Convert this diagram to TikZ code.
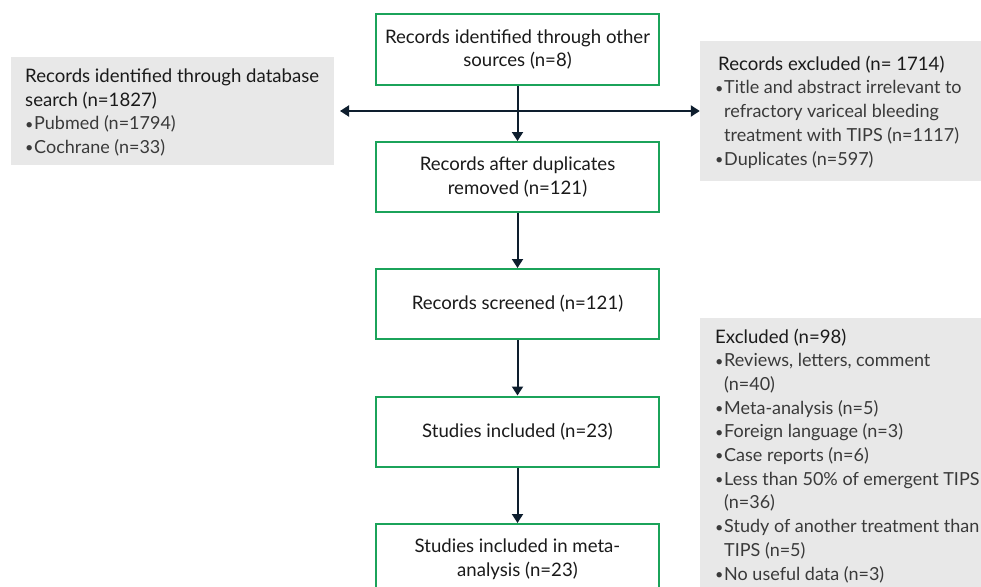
\documentclass[tikz,border=0pt]{standalone}
\usepackage{fontspec}
\usepackage{graphicx}
\setmainfont{Lato}
\usetikzlibrary{arrows.meta}
\definecolor{boxgreen}{HTML}{1BA35A}
\definecolor{arrowdark}{HTML}{0E1E2E}
\definecolor{panelgray}{HTML}{E8E8E8}
\definecolor{headtext}{HTML}{1A1A1A}
\definecolor{itemtext}{HTML}{3A3A3A}
\newcommand{\blt}{\makebox[10pt][l]{\hspace*{1pt}\raisebox{0.6pt}{\scalebox{0.8}{•}}}}
\newcommand{\ind}{\hspace*{10pt}}
\newcommand{\hd}[1]{{\fontsize{18.6}{23.7}\selectfont\color{headtext}#1}}
\tikzset{
  gbox/.style={draw=boxgreen, line width=2pt, fill=white, minimum width=283pt, minimum height=70pt,
    align=center, inner sep=0pt, font=\fontsize{18.6}{23.7}\selectfont, text=headtext},
  panel/.style={fill=panelgray, draw=none, inner sep=0pt},
  paneltext/.style={anchor=base west, align=left, inner sep=0pt, font=\fontsize{18}{23.7}\selectfont, text=itemtext},
  arr/.style={draw=arrowdark, line width=2pt, -{Triangle[length=9pt,width=11pt]}},
  darr/.style={draw=arrowdark, line width=2pt, {Triangle[length=9pt,width=11pt]}-{Triangle[length=9pt,width=11pt]}}
}
\begin{document}
\begin{tikzpicture}[x=1pt,y=-1pt]
\clip (0,0) rectangle (981,586);
\fill[white] (0,0) rectangle (981,586);
% panels
\node[panel, minimum width=323pt, minimum height=108pt] (L) at (172.5,111) {};
\node[panel, minimum width=281pt, minimum height=140pt] (R1) at (840.5,111) {};
\node[panel, minimum width=281pt, minimum height=290pt] (R2) at (840.5,463) {};
% panel texts (anchor = baseline of last line)
\node[paneltext] (Lt) at (24,153.5) {\hd{\hspace*{1pt}Records identified through database}\\
\hd{\hspace*{1pt}search (n=1827)}\\
\blt Pubmed (n=1794)\\
\blt Cochrane (n=33)};
\node[paneltext] (R1t) at (714,165) {\hd{\hspace*{4pt}Records excluded (n= 1714)}\\
\blt Title and abstract irrelevant to\\
\ind refractory variceal bleeding\\
\ind treatment with TIPS (n=1117)\\
\blt Duplicates (n=597)};
\node[paneltext] (R2t) at (714,580) {\hd{\hspace*{1pt}Excluded (n=98)}\\
\blt Reviews, letters, comment\\
\ind (n=40)\\
\blt Meta-analysis (n=5)\\
\blt Foreign language (n=3)\\
\blt Case reports (n=6)\\
\blt Less than 50\% of emergent TIPS\\
\ind (n=36)\\
\blt Study of another treatment than\\
\ind TIPS (n=5)\\
\blt No useful data (n=3)};
% flow boxes
\node[gbox] (b1) at (517.5,49.5) {Records identified through other\\sources (n=8)};
\node[gbox] (b2) at (517.5,177) {Records after duplicates\\removed (n=121)};
\node[gbox] (b3) at (517.5,304) {Records screened (n=121)};
\node[gbox] (b4) at (517.5,431.5) {Studies included (n=23)};
\node[gbox] (b5) at (517.5,559) {Studies included in meta-\\analysis (n=23)};
% connectors
\coordinate (hl) at (340,111);
\draw[darr] (hl) -- (R1.west);
\draw[arr] (b1) -- (b2);
\draw[arr] (b2) -- (b3);
\draw[arr] (b3) -- (b4);
\draw[arr] (b4) -- (b5);
\end{tikzpicture}
\end{document}
